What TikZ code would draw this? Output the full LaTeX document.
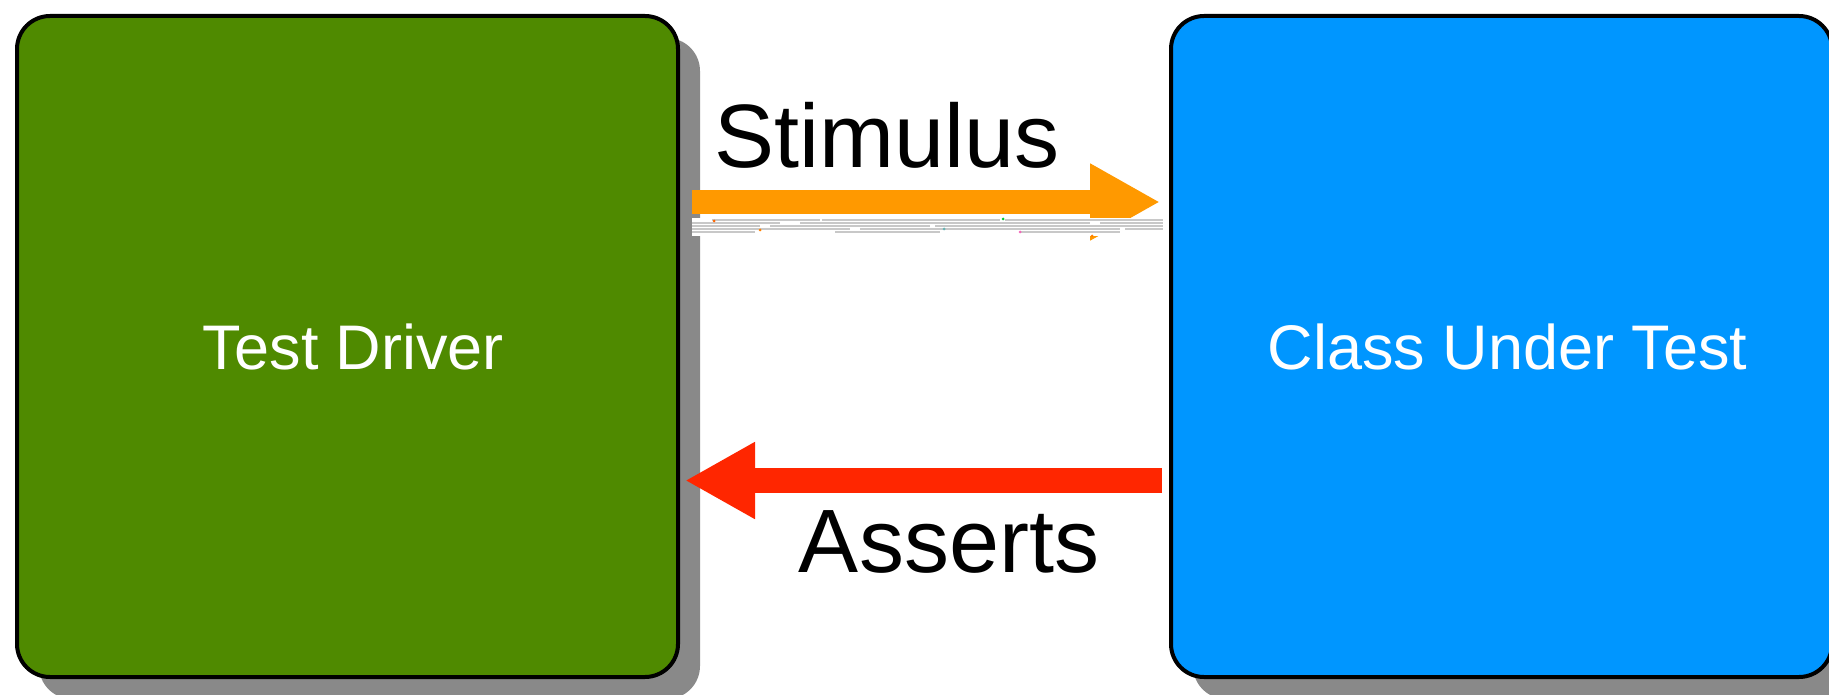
\documentclass[tikz,border=0pt]{standalone}
\usepackage{fontspec}
\setmainfont{Liberation Sans}
\usetikzlibrary{shadows,calc,arrows.meta}
\definecolor{drvgreen}{HTML}{4F8A00}
\definecolor{cutblue}{HTML}{0096FF}
\definecolor{stimorange}{HTML}{FF9900}
\definecolor{asrtred}{HTML}{FF2600}
\definecolor{shadowgray}{HTML}{898989}
\definecolor{noisegray}{HTML}{C8C8C8}
\tikzset{
  bigbox/.style={draw=black, line width=2pt, rounded corners=16.5pt,
    minimum width=330.5pt, minimum height=330.5pt, outer sep=0pt, inner sep=0pt,
    text=white, font=\fontsize{31.5}{38}\selectfont,
    drop shadow={shadow xshift=11pt, shadow yshift=-11pt, fill=shadowgray, draw=none, opacity=1}},
  biglabel/.style={anchor=base, inner sep=0pt, text=black, font=\fontsize{45}{54}\selectfont},
  fatarrow/.style={line width=12.25pt, -{Triangle[length=35pt,width=36pt]}},
  noise/.style={draw=noisegray, line width=0.8pt}
}
\begin{document}
\begin{tikzpicture}[x=0.5pt,y=-0.5pt]
\clip (0,0) rectangle (1829,695);
\fill[white] (0,0) rectangle (1829,695);
\node[bigbox, fill=drvgreen] (driver) at (347.5,346.5) {\hspace*{6pt}Test Driver};
\node[bigbox, fill=cutblue] (cut) at (1501.5,346.5) {\hspace*{6pt}Class Under Test};
\draw[fatarrow, draw=stimorange, fill=stimorange]
  ($(driver.east)+(14,-144.5)$) -- ($(cut.west)+(-11,-144.5)$);
\draw[fatarrow, draw=asrtred, fill=asrtred]
  ($(cut.west)+(-9,134)$) -- ($(driver.east)+(7,134)$);
% glitch band under the stimulus arrow
\fill[white] ($(driver.east)+(14,-128.5)$) rectangle ($(cut.west)+(-8,-110)$);
\draw[noise] (712,220) -- (820,220) (822,220) -- (1000,220) (1005,220) -- (1163,220);
\draw[noise] (692,223) -- (780,223) (800,223) -- (1090,223) (1100,223) -- (1163,223);
\draw[noise] (692,226) -- (760,226) (770,226) -- (930,226) (935,226) -- (1163,226);
\draw[noise] (692,229) -- (850,229) (860,229) -- (1120,229) (1125,229) -- (1163,229);
\draw[noise] (692,232) -- (755,232) (835,232) -- (940,232) (1020,232) -- (1120,232);
\fill[orange!80!red] (714,221) circle (1.5);
\fill[orange] (760,230) circle (1.5);
\fill[teal!60] (944,229) circle (1.5);
\fill[magenta!60] (1020,232) circle (1.5);
\fill[green!60!teal] (1003,219) circle (1.5);
\fill[orange] (1092,236) circle (1.5);
\node[biglabel] (stim) at (887,168) {Stimulus};
\node[biglabel] (asrt) at (949,572) {Asserts};
\end{tikzpicture}
\end{document}
